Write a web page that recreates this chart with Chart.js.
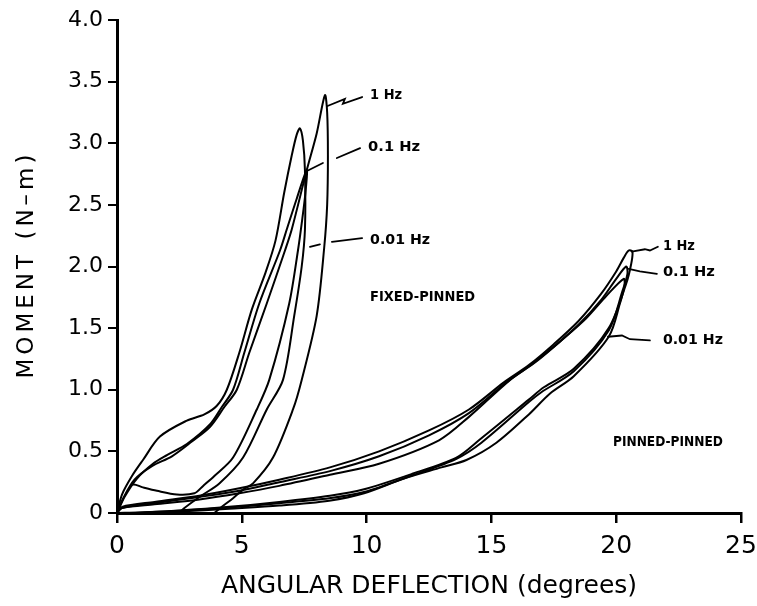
<!DOCTYPE html>
<html>
<head>
<meta charset="utf-8">
<script src="https://cdn.jsdelivr.net/npm/chart.js@4.4.1/dist/chart.umd.min.js"></script>
<style>
html,body{margin:0;padding:0;background:#fff;}
#wrap{width:757px;height:606px;}
</style>
</head>
<body>
<div id="wrap"><canvas id="c" width="757" height="606"></canvas></div>
<script>
// ---- axis ticks ----
const xTickValues = [0, 5, 10, 15, 20, 25];
const yTickValues = [0, 0.5, 1.0, 1.5, 2.0, 2.5, 3.0, 3.5, 4.0];
const xTitle = 'ANGULAR DEFLECTION (degrees)';
const yTitle = 'MOMENT (N–m)';

// ---- FIXED-PINNED loops (deflection in degrees, moment in N-m) ----
// 1 Hz loop: loading then unloading
const fp1HzDeg = [0, 0.25, 0.7, 1.4, 2.2, 3.0, 3.73, 4.3, 4.8, 5.3, 6.0, 6.73, 7.0, 7.6, 8.0, 8.33,
                  8.42, 8.45, 8.42, 8.3, 8.0, 7.4, 7.05, 6.25, 5.45, 5.05, 4.65, 4.2, 3.9];
const fp1HzMom = [0, 0.12, 0.27, 0.38, 0.46, 0.58, 0.70, 0.86, 1.00, 1.30, 1.70, 2.13, 2.30, 2.78, 3.08, 3.39,
                  3.25, 2.90, 2.50, 2.15, 1.60, 1.08, 0.84, 0.45, 0.24, 0.19, 0.12, 0.05, 0.0];
// tall narrow loop
const fpTallDeg = [0, 0.2, 0.6, 1.04, 1.72, 2.8, 3.5, 4.0, 4.4, 4.9, 5.4, 5.95, 6.35, 6.7, 7.0, 7.2, 7.33,
                   7.45, 7.53, 7.53, 7.4, 7.1, 6.65, 6.0, 5.05, 4.1, 3.3, 2.7, 2.5];
const fpTallMom = [0, 0.15, 0.30, 0.43, 0.62, 0.75, 0.80, 0.87, 1.00, 1.30, 1.65, 1.95, 2.21, 2.60, 2.90, 3.07, 3.12,
                   3.02, 2.78, 2.30, 2.00, 1.60, 1.08, 0.84, 0.45, 0.24, 0.13, 0.04, 0.0];
// loop peaking near 2.8
const fpMidDeg = [0, 0.3, 0.8, 1.44, 2.0, 2.8, 3.73, 4.2, 4.65, 5.1, 5.7, 6.53, 6.8, 7.2, 7.6,
                  7.55, 7.4, 7.25, 6.9, 6.1, 5.6, 4.65, 3.9, 3.45, 3.1, 2.4, 1.6, 1.0, 0.64, 0.35, 0];
const fpMidMom = [0, 0.13, 0.28, 0.40, 0.47, 0.56, 0.72, 0.86, 1.00, 1.30, 1.70, 2.13, 2.30, 2.55, 2.78,
                  2.60, 2.35, 2.13, 1.70, 1.08, 0.84, 0.45, 0.30, 0.22, 0.16, 0.15, 0.18, 0.21, 0.23, 0.15, 0];

// ---- PINNED-PINNED loops ----
const pp1HzDeg = [0, 0.2, 1.5, 3.3, 4.9, 6.5, 8.53, 10.5, 12.5, 14.1, 15.5, 16.5, 17.5, 18.5, 19.4, 20.0, 20.3, 20.5,
                  20.65, 20.6, 20.4, 19.7, 18.3, 17.1, 16.5, 14.5, 13.6, 11.86, 9.86, 8.53, 6.5, 4.5, 2.5, 1.0, 0];
const pp1HzMom = [0, 0.05, 0.09, 0.14, 0.20, 0.27, 0.37, 0.50, 0.67, 0.84, 1.06, 1.20, 1.37, 1.56, 1.78, 1.96, 2.07, 2.13,
                  2.12, 2.02, 1.86, 1.50, 1.17, 1.02, 0.92, 0.59, 0.45, 0.32, 0.19, 0.14, 0.09, 0.05, 0.02, 0.005, 0];
const pp01HzDeg = [0, 0.2, 1.5, 3.3, 4.9, 6.5, 8.53, 10.5, 12.5, 14.1, 15.6, 16.5, 17.5, 18.5, 19.4, 20.0, 20.4,
                   20.45, 20.25, 19.7, 18.3, 17.0, 16.5, 14.6, 13.6, 11.9, 9.9, 8.5, 6.5, 4.5, 2.5, 0.5];
const pp01HzMom = [0, 0.04, 0.08, 0.13, 0.18, 0.25, 0.34, 0.46, 0.63, 0.81, 1.06, 1.19, 1.35, 1.53, 1.73, 1.90, 2.00,
                   1.94, 1.80, 1.48, 1.15, 0.98, 0.90, 0.57, 0.44, 0.31, 0.17, 0.12, 0.08, 0.045, 0.018, 0.0];
const pp001HzDeg = [0, 0.2, 1.5, 3.3, 4.9, 6.5, 8.53, 10.5, 12.9, 14.1, 15.75, 16.8, 17.8, 18.8, 19.6, 20.3,
                    20.33, 20.15, 19.7, 18.3, 17.35, 16.5, 15.2, 14.0, 13.0, 11.5, 9.9, 8.5, 6.5, 4.5, 2.5, 1.0];
const pp001HzMom = [0, 0.04, 0.07, 0.11, 0.16, 0.22, 0.31, 0.40, 0.59, 0.78, 1.08, 1.23, 1.40, 1.58, 1.76, 1.90,
                    1.84, 1.70, 1.43, 1.11, 0.97, 0.80, 0.57, 0.43, 0.37, 0.28, 0.16, 0.10, 0.06, 0.035, 0.012, 0.0];

// ---- annotation labels (positions in data units) ----
const noteText  = ['1 Hz', '0.1 Hz', '0.01 Hz', 'FIXED-PINNED', '1 Hz', '0.1 Hz', '0.01 Hz', 'PINNED-PINNED'];
const noteDeg   = [10.14, 10.06, 10.14, 10.14, 21.87, 21.87, 21.87, 19.87];
const noteMom   = [3.39, 2.97, 2.215, 1.75, 2.16, 1.95, 1.40, 0.57];
const noteWidthPx = [32, 52, 60, 105, 32, 52, 60, 110];

// leader lines: each an array of [deg, mom] vertices
const leaders = [
  [[8.41, 3.30], [9.13, 3.36], [9.05, 3.32], [9.82, 3.375]],
  [[7.61, 2.775], [8.25, 2.84]],
  [[8.81, 2.88], [9.74, 2.96]],
  [[7.73, 2.16], [8.13, 2.18]],
  [[8.61, 2.20], [9.82, 2.23]],
  [[20.62, 2.12], [21.15, 2.14], [21.35, 2.13], [21.67, 2.16]],
  [[20.5, 1.98], [20.95, 1.96], [21.63, 1.94]],
  [[19.67, 1.43], [20.23, 1.44], [20.55, 1.41], [21.35, 1.40]]
];

function pts(xs, ys) { return xs.map((x, i) => ({x: x, y: ys[i]})); }

const loops = [
  pts(fp1HzDeg, fp1HzMom), pts(fpTallDeg, fpTallMom), pts(fpMidDeg, fpMidMom),
  pts(pp1HzDeg, pp1HzMom), pts(pp01HzDeg, pp01HzMom), pts(pp001HzDeg, pp001HzMom)
];
const loopNames = ['Fixed-pinned 1 Hz', 'Fixed-pinned loop B', 'Fixed-pinned loop C',
                   'Pinned-pinned 1 Hz', 'Pinned-pinned 0.1 Hz', 'Pinned-pinned 0.01 Hz'];

const notesPlugin = {
  id: 'notes',
  afterDatasetsDraw(chart) {
    const ctx = chart.ctx, xs = chart.scales.x, ys = chart.scales.y;
    ctx.save();
    ctx.strokeStyle = '#000';
    ctx.lineWidth = 1.8;
    ctx.lineCap = 'round';
    leaders.forEach(seg => {
      ctx.beginPath();
      seg.forEach((p, i) => {
        const px = xs.getPixelForValue(p[0]), py = ys.getPixelForValue(p[1]);
        if (i === 0) ctx.moveTo(px, py); else ctx.lineTo(px, py);
      });
      ctx.stroke();
    });
    ctx.fillStyle = '#000';
    ctx.font = 'bold 14px "DejaVu Sans"';
    ctx.textBaseline = 'middle';
    ctx.textAlign = 'left';
    noteText.forEach((t, i) => {
      const px = xs.getPixelForValue(noteDeg[i]), py = ys.getPixelForValue(noteMom[i]);
      const w0 = ctx.measureText(t).width;
      ctx.save();
      ctx.translate(px, py);
      ctx.scale(noteWidthPx[i] / w0, 1);
      ctx.fillText(t, 0, 0);
      ctx.restore();
    });
    // y axis title, letter-spaced like the original
    ctx.save();
    ctx.font = '23px "DejaVu Sans"';
    ctx.letterSpacing = '4px';
    ctx.textAlign = 'center';
    ctx.textBaseline = 'middle';
    ctx.translate(27, (chart.chartArea.top + chart.chartArea.bottom) / 2);
    ctx.rotate(-Math.PI / 2);
    ctx.fillText(yTitle, 2, 0);
    ctx.restore();
    ctx.restore();
  }
};

new Chart(document.getElementById('c'), {
  type: 'scatter',
  data: {
    datasets: loops.map((d, i) => ({
      label: loopNames[i],
      data: d,
      showLine: true,
      borderColor: '#000',
      borderWidth: 2,
      pointRadius: 0,
      tension: 0.3,
      fill: false
    }))
  },
  options: {
    responsive: false,
    animation: false,
    devicePixelRatio: 1,
    layout: { autoPadding: false, padding: { top: 20, right: 16, left: 0, bottom: 0 } },
    plugins: { legend: { display: false }, tooltip: { enabled: false } },
    scales: {
      x: {
        type: 'linear', min: 0, max: 25,
        afterBuildTicks: s => { s.ticks = xTickValues.map(v => ({value: v})); },
        afterFit: s => { s.height = 93; s.paddingLeft = 0; s.paddingRight = 0; },
        ticks: { color: '#000', font: { family: 'DejaVu Sans', size: 25 }, padding: 8, maxRotation: 0 },
        grid: { drawOnChartArea: false, drawTicks: true, tickLength: 10, color: '#000', lineWidth: 2.5 },
        border: { display: true, color: '#000', width: 3 },
        title: { display: true, text: xTitle, color: '#000',
                 font: { family: 'DejaVu Sans', size: 25 }, padding: { top: 0, bottom: 5 } }
      },
      y: {
        type: 'linear', min: 0, max: 4,
        afterBuildTicks: s => { s.ticks = yTickValues.map(v => ({value: v})); },
        afterFit: s => { s.width = 117; s.paddingTop = 0; s.paddingBottom = 0; },
        ticks: { color: '#000', font: { family: 'DejaVu Sans', size: 22 }, padding: 5,
                 callback: v => v === 0 ? '0' : v.toFixed(1) },
        grid: { drawOnChartArea: false, drawTicks: true, tickLength: 9, color: '#000', lineWidth: 2 },
        border: { display: true, color: '#000', width: 3 },
        title: { display: false }
      }
    }
  },
  plugins: [notesPlugin]
});
</script>
</body>
</html>
